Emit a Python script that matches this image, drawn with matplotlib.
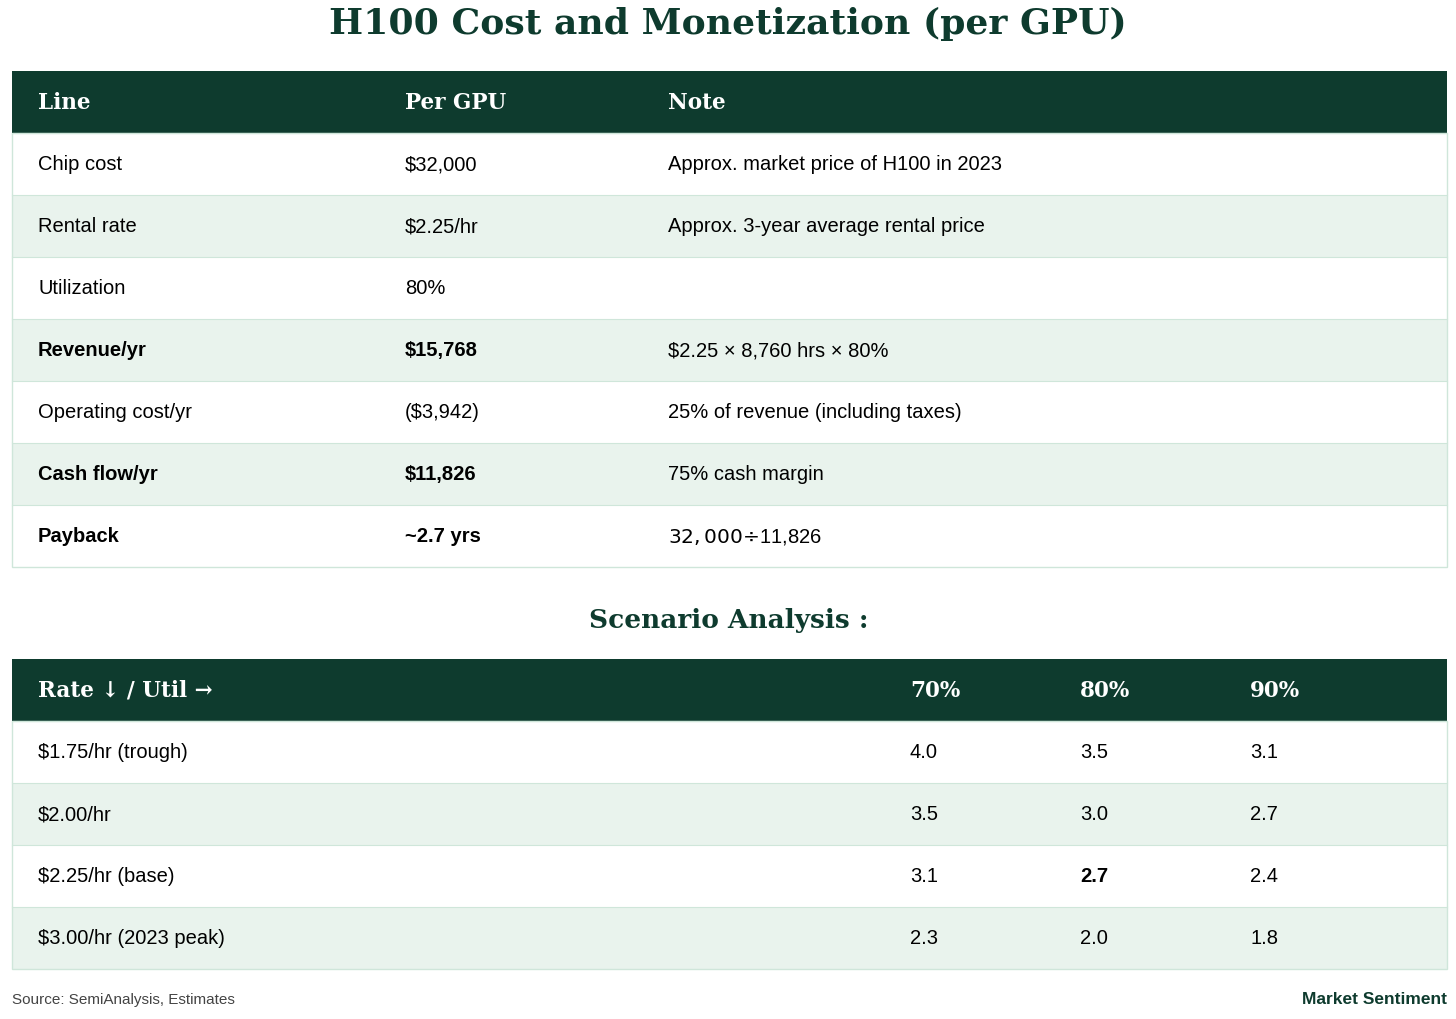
import matplotlib.pyplot as plt
from matplotlib.patches import Rectangle

title = "H100 Cost and Monetization (per GPU)"
cost_header = ["Line", "Per GPU", "Note"]
cost_lines = ["Chip cost", "Rental rate", "Utilization", "Revenue/yr",
              "Operating cost/yr", "Cash flow/yr", "Payback"]
cost_values = ["$32,000", "$2.25/hr", "80%", "$15,768", "($3,942)", "$11,826", "~2.7 yrs"]
cost_notes = ["Approx. market price of H100 in 2023", "Approx. 3-year average rental price", "",
              "$2.25 \u00d7 8,760 hrs \u00d7 80%", "25% of revenue (including taxes)",
              "75% cash margin", "$32,000 \u00f7 $11,826"]
cost_bold = [False, False, False, True, False, True, True]

scen_title = "Scenario Analysis :"
scen_header = ["Rate \u2193 / Util \u2192", "70%", "80%", "90%"]
scen_rates = ["$1.75/hr (trough)", "$2.00/hr", "$2.25/hr (base)", "$3.00/hr (2023 peak)"]
scen_values = [["4.0", "3.5", "3.1"], ["3.5", "3.0", "2.7"],
               ["3.1", "2.7", "2.4"], ["2.3", "2.0", "1.8"]]
base_cell = (2, 1)

DARK = "#0e3b2e"
LIGHT = "#e9f3ed"
EDGE = "#cfe6da"
SERIF = ["DejaVu Serif"]
SANS = ["Liberation Sans", "DejaVu Sans"]

W, H = 1456, 1020
fig = plt.figure(figsize=(W / 100, H / 100), dpi=100)
ax = fig.add_axes([0, 0, 1, 1])
ax.set_xlim(0, W)
ax.set_ylim(H, 0)
ax.axis("off")

left, right, rh = 12, 1447, 62


def draw_table(top, header, rows, col_x, bold_fn):
    ax.add_patch(Rectangle((left, top), right - left, rh, color=DARK, lw=0))
    for x, h in zip(col_x, header):
        ax.text(x, top + rh / 2, h, color="white", fontsize=15.5, fontweight="bold",
                family=SERIF, va="center")
    for i, row in enumerate(rows):
        y = top + rh * (i + 1)
        ax.add_patch(Rectangle((left, y), right - left, rh,
                               facecolor=LIGHT if i % 2 else "white", edgecolor="none"))
        ax.plot([left, right], [y, y], color=EDGE, lw=0.8)
        for j, (x, t) in enumerate(zip(col_x, row)):
            ax.text(x, y + rh / 2, t, color="black", fontsize=14.5, family=SANS, va="center",
                    fontweight="bold" if bold_fn(i, j) else "normal")
    bottom = top + rh * (len(rows) + 1)
    ax.add_patch(Rectangle((left, top + rh), right - left, bottom - top - rh,
                           fill=False, edgecolor=EDGE, lw=1))


ax.text(W / 2, 24, title, ha="center", va="center", fontsize=26, fontweight="bold",
        family=SERIF, color=DARK)

rows1 = list(zip(cost_lines, cost_values, cost_notes))
draw_table(72, cost_header, rows1, [38, 405, 668],
           lambda i, j: cost_bold[i] and j < 2)

ax.text(W / 2 + 1, 621, scen_title, ha="center", va="center", fontsize=19,
        fontweight="bold", family=SERIF, color=DARK)

rows2 = [[r] + v for r, v in zip(scen_rates, scen_values)]
draw_table(660, scen_header, rows2, [38, 910, 1080, 1250],
           lambda i, j: (i, j - 1) == base_cell)

ax.text(12, 1000, "Source: SemiAnalysis, Estimates", fontsize=11, color="#444444",
        family=SANS, va="center")
ax.text(1447, 1000, "Market Sentiment", fontsize=12.5, color=DARK, fontweight="bold",
        family=SANS, va="center", ha="right")

fig.savefig("out.png", dpi=100)
